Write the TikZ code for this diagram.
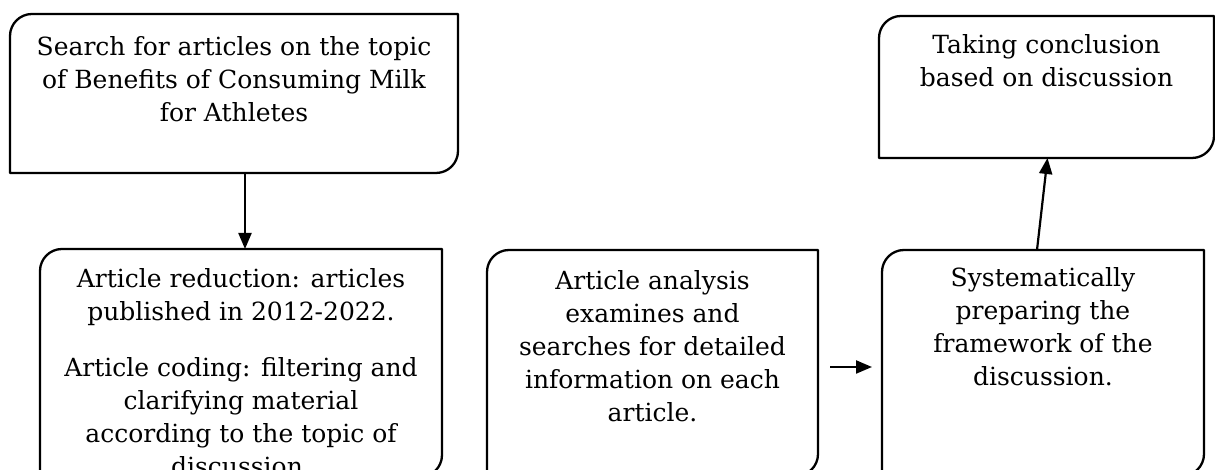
\documentclass[tikz,border=0pt]{standalone}
\usepackage{fontspec}
\setmainfont{DejaVu Serif}
\usetikzlibrary{arrows.meta, positioning}

\newcommand{\stepfont}{\fontsize{25}{33}\selectfont}
\newcommand{\boxbody}[4][15pt]{\parbox[c][#3][t]{#2}{\centering\stepfont\vspace*{#1}\strut#4}}

\begin{document}
\begin{tikzpicture}[
    x=1pt, y=1pt,
    >=Stealth,
    stepbox/.style={inner sep=0pt, outer sep=0pt},
    outline/.style={line width=2.3pt, line join=round},
    flow/.style={-{Triangle[length=16pt, width=13pt]}, line width=2.2pt}
]

    % Frame of the figure
    \clip (0,0) rectangle (1215,470);

    % Step 1: searching
    \node[stepbox] (search) at (234,376.5) {\boxbody[18pt]{448pt}{159pt}{Search for articles on the topic\\of Benefits of Consuming Milk\\for Athletes}};

    % Step 2: reduction and coding
    \node[stepbox] (reduce) at (241,107) {\boxbody{402pt}{228pt}{Article reduction: articles\\published in 2012-2022.\par\vspace{23pt}\strut Article coding: filtering and\\clarifying material\\according to the topic of\\discussion.}};

    % Step 3: analysis
    \node[stepbox] (analyse) at (652.5,107) {\boxbody[16pt]{331pt}{226pt}{Article analysis\\examines and\\searches for detailed\\information on each\\article.}};

    % Step 4: framework
    \node[stepbox] (frame) at (1043,107) {\boxbody[13pt]{322pt}{226pt}{Systematically\\preparing the\\framework of the\\discussion.}};

    % Step 5: conclusion
    \node[stepbox] (conclude) at (1046.5,383) {\boxbody[14pt]{335pt}{142pt}{Taking conclusion\\based on discussion}};

    % Outlines, rounded at top left and bottom right only
    \foreach \n in {search, reduce, analyse, frame, conclude}
        \draw[outline] (\n.south west) -- ([yshift=-22pt]\n.north west)
            arc[start angle=180, end angle=90, radius=22pt] -- (\n.north east)
            -- ([yshift=22pt]\n.south east)
            arc[start angle=0, end angle=-90, radius=22pt] -- cycle;

    % Connectors
    \draw[flow] ([xshift=11pt]search.south) -- ([xshift=11pt]search.south |- reduce.north);
    \draw[flow] ([xshift=12pt, yshift=-4pt]analyse.east) -- ([xshift=-10pt, yshift=-4pt]frame.west);
    \draw[flow] ([xshift=-6pt]frame.north) -- ([xshift=1pt]conclude.south);

\end{tikzpicture}
\end{document}
